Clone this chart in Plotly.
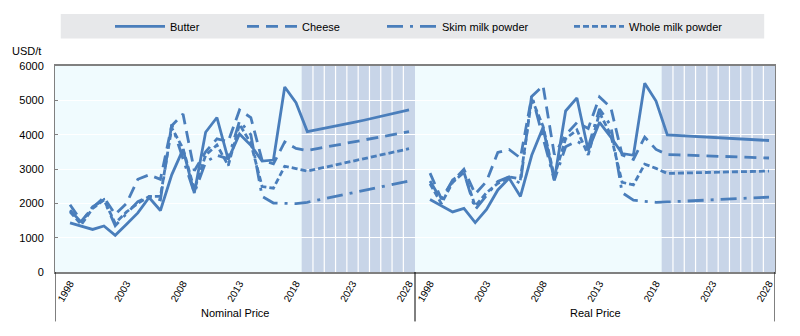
import plotly.graph_objects as go

# Marketing years shown in each panel
years = list(range(1998, 2029))
tick_years = [1998, 2003, 2008, 2013, 2018, 2023, 2028]
first_projection_year = 2019

# Nominal prices, USD/t
butter_nominal = [1430, 1340, 1240, 1340, 1070, 1390, 1720, 2170, 1790, 2830,
                  3570, 2300, 4070, 4500, 3280, 4020, 3690, 3230, 3260, 5390,
                  4930, 4090, 4150, 4210, 4280, 4350, 4420, 4490, 4560, 4640, 4720]
cheese_nominal = [1960, 1480, 1870, 2170, 1680, 2000, 2700, 2830, 2700, 4260,
                  4600, 2950, 3500, 3880, 3800, 4720, 4500, 3250, 3150, 3790,
                  3600, 3540, 3600, 3660, 3720, 3780, 3840, 3900, 3960, 4020, 4090]
smp_nominal = [1800, 1450, 1900, 2100, 1350, 1700, 2050, 2200, 2100, 4300,
               3300, 2300, 3200, 3400, 3300, 4400, 4000, 2200, 2010, 1990,
               1990, 2030, 2100, 2170, 2240, 2310, 2380, 2450, 2520, 2590, 2650]
wmp_nominal = [1750, 1380, 1850, 2100, 1420, 1750, 2000, 2200, 2200, 4200,
               3600, 2400, 3400, 3700, 3100, 4300, 3750, 2490, 2440, 3080,
               3010, 2940, 3010, 3080, 3150, 3220, 3290, 3360, 3430, 3510, 3590]

# Real prices, USD/t
butter_real = [2110, 1920, 1750, 1850, 1440, 1820, 2390, 2730, 2200, 3400,
               4210, 2680, 4690, 5070, 3540, 4360, 3930, 3450, 3400, 5500,
               4980, 3990, 3970, 3950, 3930, 3910, 3890, 3870, 3860, 3840, 3830]
cheese_real = [2880, 2130, 2640, 2990, 2270, 2640, 3480, 3570, 3320, 5110,
               5430, 3420, 3990, 4350, 4180, 5100, 4790, 3410, 3280, 3930,
               3570, 3420, 3410, 3400, 3390, 3380, 3370, 3360, 3350, 3335, 3320]
smp_real = [2650, 2090, 2680, 2900, 1820, 2240, 2640, 2770, 2580, 5160,
            3890, 2670, 3650, 3810, 3630, 4750, 4260, 2310, 2090, 2060,
            2030, 2040, 2055, 2070, 2085, 2100, 2115, 2130, 2150, 2165, 2180]
wmp_real = [2570, 1990, 2610, 2900, 1920, 2310, 2580, 2770, 2710, 5040,
            4250, 2780, 3880, 4140, 3410, 4640, 3990, 2610, 2540, 3140,
            3020, 2870, 2880, 2890, 2895, 2900, 2910, 2915, 2925, 2930, 2940]

panels = ["Nominal Price", "Real Price"]
series = [
    ("Butter", butter_nominal, butter_real, "solid", "legend"),
    ("Cheese", cheese_nominal, cheese_real, "12px,7px", "legend2"),
    ("Skim milk powder", smp_nominal, smp_real, "16px,7px,3px,7px", "legend3"),
    ("Whole milk powder", wmp_nominal, wmp_real, "6px,3px", "legend4"),
]

LINE = "#4A7EBB"
PLOT_BG = "#F0FBFE"
SHADE = "#C8D5E8"
FONT = "Liberation Sans, Arial, sans-serif"

# Both panels share one numeric x axis; each panel gets a little padding
pad_left, pad_right = 1.33, 0.53
panel_width = (len(years) - 1) + pad_left + pad_right
offsets = [0.0, panel_width]
x_min = -pad_left
x_max = x_min + 2 * panel_width

fig = go.Figure()

for name, nominal, real, dash, leg in series:
    for p, values in enumerate([nominal, real]):
        fig.add_trace(go.Scatter(
            x=[offsets[p] + i for i in range(len(years))],
            y=values,
            mode="lines",
            name=name,
            legend=leg,
            legendgroup=name,
            showlegend=(p == 0),
            line=dict(color=LINE, width=2.8, dash=dash),
            hoverinfo="skip",
        ))

shapes = []
proj_idx = years.index(first_projection_year)
for p, off in enumerate(offsets):
    panel_start = x_min + off
    panel_end = panel_start + panel_width
    shade_start = off + proj_idx - 0.5
    # projection period background
    shapes.append(dict(type="rect", xref="x", yref="paper", x0=shade_start, x1=panel_end,
                       y0=0, y1=1, fillcolor=SHADE, line_width=0, layer="below"))
    # vertical white separators between projection years
    for k in range(proj_idx + 1, len(years)):
        xv = off + k - 0.5
        shapes.append(dict(type="line", xref="x", yref="paper", x0=xv, x1=xv, y0=0, y1=1,
                           line=dict(color="white", width=1.2), layer="below"))

# panel dividers under the axis
for xv in [x_min, x_min + panel_width, x_max]:
    shapes.append(dict(type="line", xref="x", yref="paper", x0=xv, x1=xv, y0=0, y1=-0.24,
                       line=dict(color="#000000", width=1)))

# grey legend band
shapes.append(dict(type="rect", xref="paper", yref="paper", x0=0.008, x1=0.985,
                   y0=1.133, y1=1.252, fillcolor="#E7E8EA", line_width=0, layer="below"))

tickvals, ticktext = [], []
for off in offsets:
    for y in tick_years:
        tickvals.append(off + years.index(y))
        ticktext.append(str(y))

annotations = [
    dict(text="USD/t", xref="paper", yref="paper", x=-0.017, y=1.075, xanchor="right",
         yanchor="middle", showarrow=False, font=dict(family=FONT, size=11, color="#000")),
]
for p, off in enumerate(offsets):
    annotations.append(dict(text=panels[p], xref="x", yref="paper",
                            x=x_min + off + panel_width / 2, y=-0.198, xanchor="center",
                            yanchor="middle", showarrow=False,
                            font=dict(family=FONT, size=11, color="#000")))

leg_common = dict(orientation="h", bgcolor="rgba(0,0,0,0)", yref="paper", y=1.192,
                  yanchor="middle", xanchor="left", itemwidth=50,
                  font=dict(family=FONT, size=11, color="#000"))
leg_x = [118, 250, 390, 577]
def lx(px):
    return (px - 55 - 8) / 720

fig.update_layout(
    width=800, height=336,
    margin=dict(l=55, r=25, t=63, b=64),
    paper_bgcolor="white",
    plot_bgcolor=PLOT_BG,
    shapes=shapes,
    annotations=annotations,
    legend=dict(leg_common, x=lx(leg_x[0])),
    legend2=dict(leg_common, x=lx(leg_x[1])),
    legend3=dict(leg_common, x=lx(leg_x[2])),
    legend4=dict(leg_common, x=lx(leg_x[3])),
    xaxis=dict(range=[x_min, x_max], tickvals=tickvals, ticktext=ticktext, tickangle=-60,
               showgrid=False, zeroline=False, showline=True, linecolor="#808080",
               linewidth=2, mirror=True, ticks="",
               tickfont=dict(family=FONT, size=10, color="#000")),
    yaxis=dict(range=[0, 6000], dtick=1000, showgrid=True, gridcolor="white", gridwidth=1.2,
               zeroline=False, showline=True, linecolor="#808080", linewidth=1, mirror=True,
               ticks="inside", ticklen=3, tickcolor="#808080", ticklabelstandoff=8,
               tickfont=dict(family=FONT, size=11, color="#000")),
)

fig.write_html("out.html")
